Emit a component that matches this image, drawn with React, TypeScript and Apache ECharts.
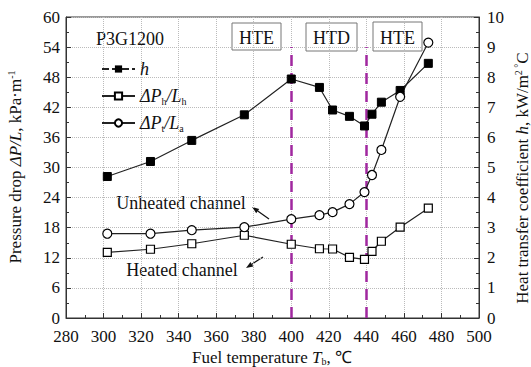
import React, { useEffect, useRef } from "react";
import * as echarts from "echarts";

const temperatures = [302, 325, 347, 375, 400, 415, 422, 431, 439, 443, 448, 458, 473];
const hValues = [4.7, 5.2, 5.9, 6.75, 7.94, 7.66, 6.91, 6.7, 6.38, 6.77, 7.17, 7.56, 8.46];
const dPhValues = [13.1, 13.7, 14.8, 16.5, 14.7, 13.8, 13.75, 12.1, 11.7, 13.3, 15.3, 18.1, 21.9];
const dPtValues = [16.8, 16.8, 17.5, 18.1, 19.7, 20.5, 21.1, 22.7, 25.1, 28.5, 33.5, 44.1, 54.9];
const regionBounds = [400, 440];
const regionLabels = ["HTE", "HTD", "HTE"];

const FONT = "'Liberation Serif', 'Times New Roman', serif";
const INK = "#111";

function arrow(x1: number, y1: number, x2: number, y2: number) {
  const ang = Math.atan2(y2 - y1, x2 - x1);
  const L = 7;
  const W = 2.6;
  const bx = x2 - L * Math.cos(ang);
  const by = y2 - L * Math.sin(ang);
  const px = -Math.sin(ang) * W;
  const py = Math.cos(ang) * W;
  return {
    type: "group",
    children: [
      { type: "line", shape: { x1, y1, x2: bx, y2: by }, style: { stroke: INK, lineWidth: 1.2 } },
      {
        type: "polygon",
        shape: { points: [[x2, y2], [bx + px, by + py], [bx - px, by - py]] },
        style: { fill: INK },
      },
    ],
  };
}

function box(x: number, y: number, w: number, h: number, label: string) {
  return {
    type: "group",
    children: [
      { type: "rect", shape: { x, y, width: w, height: h }, style: { fill: "#fff", stroke: "#777", lineWidth: 1 } },
      {
        type: "text",
        x: x + w / 2,
        y: y + h / 2 + 1,
        style: { text: label, fontFamily: FONT, fontSize: 18, fill: INK, align: "center", verticalAlign: "middle" },
      },
    ],
  };
}

const richBase = {
  r: { fontFamily: FONT, fontSize: 17, fontStyle: "normal", fill: INK, color: INK },
  i: { fontFamily: FONT, fontSize: 17, fontStyle: "italic", fill: INK, color: INK },
  sub: { fontFamily: FONT, fontSize: 10, fontStyle: "normal", fill: INK, color: INK, verticalAlign: "bottom", padding: [8, 0, 0, 0] },
  sup: { fontFamily: FONT, fontSize: 10, fontStyle: "normal", fill: INK, color: INK, verticalAlign: "top", padding: [0, 0, 8, 0] },
};

export default function App() {
  const ref = useRef<HTMLDivElement>(null);
  useEffect(() => {
    if (!ref.current) return;
    const chart = echarts.init(ref.current, undefined, { renderer: "svg" });
    const pair = (vals: number[]) => temperatures.map((t, i) => [t, vals[i]]);
    const lineCol = "#222";
    const tickLabel = { fontFamily: FONT, fontSize: 17, color: INK };
    chart.setOption({
      animation: false,
      backgroundColor: "#fff",
      textStyle: { fontFamily: FONT },
      grid: { left: 66, right: 52, top: 17, bottom: 49, show: true, borderColor: "#333", borderWidth: 1, backgroundColor: "transparent" },
      xAxis: {
        type: "value",
        min: 280,
        max: 500,
        interval: 20,
        axisLine: { lineStyle: { color: "#333" } },
        axisTick: { inside: true, length: 5, lineStyle: { color: "#333" } },
        minorTick: { show: true, splitNumber: 2, length: 3, lineStyle: { color: "#333" } },
        splitLine: { show: true, lineStyle: { type: "dotted", color: "#bbb" } },
        axisLabel: { ...tickLabel, margin: 10 },
      },
      yAxis: [
        {
          type: "value",
          min: 0,
          max: 60,
          interval: 6,
          axisLine: { show: true, lineStyle: { color: "#333" } },
          axisTick: { show: true, inside: true, length: 5, lineStyle: { color: "#333" } },
          minorTick: { show: true, splitNumber: 2, length: 3, lineStyle: { color: "#333" } },
          splitLine: { show: true, lineStyle: { type: "dotted", color: "#bbb" } },
          axisLabel: { ...tickLabel, margin: 6 },
        },
        {
          type: "value",
          min: 0,
          max: 10,
          interval: 1,
          position: "right",
          axisLine: { show: true, lineStyle: { color: "#333" } },
          axisTick: { show: true, inside: true, length: 5, lineStyle: { color: "#333" } },
          minorTick: { show: true, splitNumber: 2, length: 3, lineStyle: { color: "#333" } },
          splitLine: { show: false },
          axisLabel: { ...tickLabel, margin: 8 },
        },
      ],
      legend: {
        orient: "vertical",
        left: 96,
        top: 54,
        itemWidth: 33,
        itemHeight: 9,
        itemGap: 7,
        textStyle: {
          fontFamily: FONT,
          fontSize: 17,
          color: INK,
          lineHeight: 20,
          rich: {
            i: { fontFamily: FONT, fontSize: 18, fontStyle: "italic", color: INK },
            sub: { fontFamily: FONT, fontSize: 10, fontStyle: "normal", color: INK, verticalAlign: "bottom", padding: [8, 0, 0, 0] },
          },
        },
        data: [
          { name: "h", lineStyle: { type: [7, 3] } },
          { name: "dPh" },
          { name: "dPt" },
        ],
        formatter: (name: string) => {
          if (name === "h") return "{i|h}";
          if (name === "dPh") return "{i|ΔP}{sub|h}{i|/L}{sub|h}";
          return "{i|ΔP}{sub|t}{i|/L}{sub|a}";
        },
      },
      series: [
        {
          name: "h",
          type: "line",
          yAxisIndex: 1,
          data: pair(hValues),
          symbol: "rect",
          symbolSize: 8,
          itemStyle: { color: "#000", borderColor: "#000" },
          lineStyle: { color: lineCol, width: 1.2 },
          z: 5,
        },
        {
          name: "dPh",
          type: "line",
          yAxisIndex: 0,
          data: pair(dPhValues),
          symbol: "rect",
          symbolSize: 8,
          itemStyle: { color: "#fff", borderColor: "#000", borderWidth: 1.2 },
          lineStyle: { color: lineCol, width: 1.2 },
          z: 5,
          markLine: {
            silent: true,
            symbol: "none",
            label: { show: false },
            lineStyle: { color: "#a0279f", type: [11, 7], width: 2.5 },
            data: regionBounds.map((b) => [{ coord: [b, 0] }, { coord: [b, 54] }]),
          },
        },
        {
          name: "dPt",
          type: "line",
          yAxisIndex: 0,
          data: pair(dPtValues),
          symbol: "circle",
          symbolSize: 9,
          itemStyle: { color: "#fff", borderColor: "#000", borderWidth: 1.2 },
          lineStyle: { color: lineCol, width: 1.2 },
          z: 5,
        },
      ],
      graphic: [
        {
          type: "text",
          left: 96,
          top: 30,
          style: { text: "P3G1200", fontFamily: FONT, fontSize: 18, fill: INK },
        },
        box(232, 23, 49, 27, regionLabels[0]),
        box(306, 23, 51, 28, regionLabels[1]),
        box(373, 22, 49, 29, regionLabels[2]),
        {
          type: "text",
          x: 181,
          y: 203,
          style: { text: "Unheated channel", fontFamily: FONT, fontSize: 18, fill: INK, align: "center", verticalAlign: "middle" },
        },
        {
          type: "text",
          x: 182,
          y: 270,
          style: { text: "Heated channel", fontFamily: FONT, fontSize: 18, fill: INK, align: "center", verticalAlign: "middle" },
        },
        arrow(269, 219, 252, 207),
        arrow(263, 257, 246, 268),
        {
          type: "text",
          x: 272,
          y: 357,
          style: {
            text: "{r|Fuel temperature }{i|T}{sub|b}{r|, ℃}",
            fontFamily: FONT,
            fontSize: 17,
            fill: INK,
            align: "center",
            verticalAlign: "middle",
            rich: richBase,
          },
        },
        {
          type: "text",
          x: 15,
          y: 167,
          rotation: Math.PI / 2,
          style: {
            text: "{r|Pressure drop }{i|ΔP/L}{r|, kPa·m}{sup|-1}",
            fontFamily: FONT,
            fontSize: 17,
            fill: INK,
            align: "center",
            verticalAlign: "middle",
            rich: richBase,
          },
        },
        {
          type: "text",
          x: 522,
          y: 178,
          rotation: Math.PI / 2,
          style: {
            text: "{r|Heat transfer coefficient }{i|h}{r|, kW/m}{sup|2 °}{r|C}",
            fontFamily: FONT,
            fontSize: 17,
            fill: INK,
            align: "center",
            verticalAlign: "middle",
            rich: richBase,
          },
        },
      ],
    });
    return () => chart.dispose();
  }, []);
  return <div ref={ref} style={{ position: "fixed", left: 0, top: 0, width: 531, height: 367 }} />;
}
